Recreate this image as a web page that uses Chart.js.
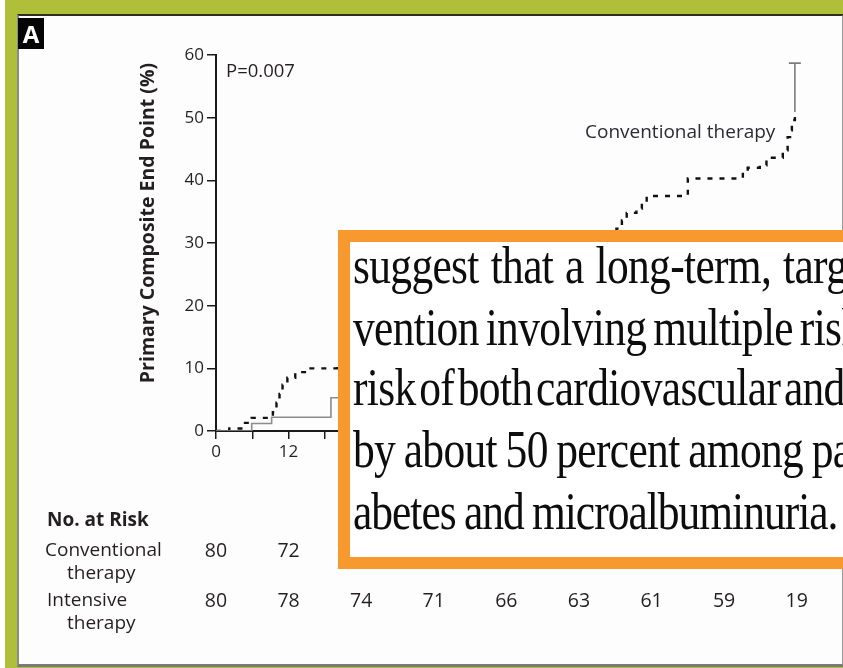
<!DOCTYPE html>
<html>
<head>
<meta charset="utf-8">
<script src="https://cdn.jsdelivr.net/npm/chart.js@4.4.1/dist/chart.umd.min.js"></script>
<style>
  html, body { margin: 0; padding: 0; width: 843px; height: 668px; overflow: hidden; background: #ffffff; }
  #frame { position: absolute; left: 5px; top: 0; width: 845px; height: 670px; background: #b0bf3a; }
  #panel { position: absolute; left: 17px; top: 14px; width: 823px; height: 648px; background: #fdfdfd;
           border-top: 2px solid #2e2e22; border-left: 2px solid #8a8a8a; border-right: 2px solid #9a9a9a; border-bottom: 3px solid #7a7a7a; }
  #chart { position: absolute; left: 0; top: 0; }
  #tag { position: absolute; left: 18px; top: 18px; width: 26px; height: 31px; background: #050505; color: #fff;
         font: bold 24px "Open Sans", sans-serif; line-height: 31px; text-align: center; }
  #quote { position: absolute; left: 338px; top: 230px; width: 560px; height: 315px; background: #ffffff;
           border: 12px solid #f8992f; overflow: hidden; }
  #quote .ln { position: absolute; left: 3px; white-space: nowrap; font-family: "Liberation Serif", "Times New Roman", serif;
               font-size: 53px; line-height: 52px; color: #0d0d0d; letter-spacing: -0.8px;
               transform-origin: 0 0; transform: scaleX(0.82); }
</style>
</head>
<body>
<div id="frame"></div>
<div id="panel"></div>
<canvas id="chart" width="843" height="668"></canvas>
<div id="tag">A</div>
<div id="quote">
  <div class="ln" style="top:-3px; word-spacing:2px">suggest that a long-term, targeted</div>
  <div class="ln" style="top:59px; word-spacing:-4px">vention involving multiple risk</div>
  <div class="ln" style="top:119px; word-spacing:-8px">risk of both cardiovascular and</div>
  <div class="ln" style="top:181px; word-spacing:-2px">by about 50 percent among patients</div>
  <div class="ln" style="top:243px; word-spacing:-2px; letter-spacing:-1.2px">abetes and microalbuminuria.</div>
</div>
<script>
// Kaplan-Meier curves for the primary composite end point (months of follow-up vs. cumulative %)
const convMonths = [0, 2.2, 4.8, 5.9, 9.4, 10.0, 10.5, 11.0, 11.8, 13.1, 14.7, 20.0, 24, 28, 32, 36, 40, 44, 48, 52, 56, 60, 63,
                    66.2, 67.1, 67.9, 69.5, 70.4, 71.2, 78.0, 87.1, 87.9, 89.9, 91.0, 93.7, 94.5, 94.9, 95.2, 95.7];
const convPct    = [0, 0.4, 1.3, 2.1, 3.0, 4.5, 5.9, 7.4, 8.5, 9.4, 10.0, 11.1, 12.6, 14.0, 15.8, 17.6, 19.2, 20.8, 22.3, 24.0, 25.6, 27.3, 29.0,
                    32.3, 33.6, 34.8, 35.5, 36.3, 37.5, 40.3, 41.0, 42.0, 42.4, 43.6, 44.8, 46.9, 48.0, 49.6, 50.9];
const intMonths  = [0, 5.9, 9.2, 19.0, 26, 33, 41, 50, 58, 66, 75, 84, 92, 96];
const intPct     = [0, 1.2, 2.2, 5.3, 7.0, 8.6, 10.5, 12.4, 14.2, 16.3, 18.0, 19.8, 21.5, 22.8];

// upper confidence bar at the end of the conventional-therapy curve
const convErrMonth = 95.7;
const convErrLow = 50.9;
const convErrHigh = 58.7;

// numbers at risk below the axis
const riskMonths = [0, 12, 24, 36, 48, 60, 72, 84, 96];
const riskConventional = [80, 72, 70, 63, 59, 50, 46, 41, 13];
const riskIntensive = [80, 78, 74, 71, 66, 63, 61, 59, 19];

const yTitle = 'Primary Composite End Point (%)';
const pValueText = 'P=0.007';
const convLabel = 'Conventional therapy';

const INK = '#231f20';
const SANS = '"Open Sans", "DejaVu Sans", sans-serif';

const toPoints = (xs, ys) => xs.map((x, i) => ({ x: x, y: ys[i] }));

const annotations = {
  id: 'annotations',
  afterDatasetsDraw(chart) {
    const { ctx, scales: { x, y } } = chart;
    // error bar with cap
    const ex = x.getPixelForValue(convErrMonth);
    const eTop = y.getPixelForValue(convErrHigh);
    const eBot = y.getPixelForValue(convErrLow);
    ctx.save();
    ctx.strokeStyle = '#7d7d7d';
    ctx.lineWidth = 1.6;
    ctx.beginPath();
    ctx.moveTo(ex, eBot);
    ctx.lineTo(ex, eTop);
    ctx.moveTo(ex - 6, eTop);
    ctx.lineTo(ex + 6, eTop);
    ctx.stroke();
    ctx.restore();
  },
  afterDraw(chart) {
    const { ctx, scales: { x } } = chart;
    ctx.save();
    ctx.fillStyle = INK;

    // vertical axis title
    ctx.save();
    ctx.translate(148, 223);
    ctx.rotate(-Math.PI / 2);
    ctx.font = 'bold 19.5px ' + SANS;
    ctx.textAlign = 'center';
    ctx.textBaseline = 'middle';
    ctx.fillText(yTitle, 0, 0);
    ctx.restore();

    ctx.textBaseline = 'middle';
    ctx.textAlign = 'left';
    ctx.font = '18.5px ' + SANS;
    ctx.fillText(pValueText, 226, 72);

    ctx.fillStyle = '#2b2b33';
    ctx.font = '19px ' + SANS;
    ctx.fillText(convLabel, 585, 133);

    // numbers at risk
    ctx.fillStyle = INK;
    ctx.font = 'bold 19px ' + SANS;
    ctx.fillText('No. at Risk', 47, 521);
    ctx.font = '19px ' + SANS;
    ctx.fillText('Conventional', 45, 551);
    ctx.fillText('therapy', 67, 574);
    ctx.fillText('Intensive', 47, 601);
    ctx.fillText('therapy', 67, 624);

    ctx.textAlign = 'center';
    ctx.font = '19.5px ' + SANS;
    riskMonths.forEach((m, i) => {
      const px = x.getPixelForValue(m);
      ctx.fillText(String(riskConventional[i]), px, 551);
      ctx.fillText(String(riskIntensive[i]), px, 601);
    });
    ctx.restore();
  }
};

new Chart(document.getElementById('chart'), {
  type: 'line',
  data: {
    datasets: [
      {
        label: 'Intensive therapy',
        data: toPoints(intMonths, intPct),
        borderColor: '#8c8c8c',
        borderWidth: 1.6,
        stepped: true,
        pointRadius: 0,
        fill: false
      },
      {
        label: 'Conventional therapy',
        data: toPoints(convMonths, convPct),
        borderColor: '#111111',
        borderWidth: 2.4,
        borderDash: [5, 7],
        stepped: true,
        pointRadius: 0,
        fill: false
      }
    ]
  },
  options: {
    responsive: false,
    animation: false,
    devicePixelRatio: 1,
    layout: { padding: { left: 136, top: 55, right: 10, bottom: 0 } },
    plugins: { legend: { display: false }, tooltip: { enabled: false }, title: { display: false } },
    scales: {
      x: {
        type: 'linear',
        min: 0,
        max: 102,
        afterFit(scale) { scale.height = 237; },
        border: { display: true, color: '#1a1a1a', width: 2 },
        grid: { display: true, drawOnChartArea: false, drawTicks: true, tickLength: 8, color: '#1a1a1a', lineWidth: 1.5 },
        ticks: {
          stepSize: 6,
          autoSkip: false,
          maxRotation: 0,
          padding: 3,
          color: INK,
          font: { family: SANS, size: 17 },
          callback: (v) => (v % 12 === 0 ? String(v) : '')
        }
      },
      y: {
        min: 0,
        max: 60,
        afterFit(scale) { scale.width = 80; },
        border: { display: true, color: '#1a1a1a', width: 2 },
        grid: { display: true, drawOnChartArea: false, drawTicks: true, tickLength: 9, color: '#1a1a1a', lineWidth: 1.5 },
        ticks: { stepSize: 10, padding: 3, color: INK, font: { family: SANS, size: 17 } }
      }
    }
  },
  plugins: [annotations]
});
</script>
</body>
</html>
